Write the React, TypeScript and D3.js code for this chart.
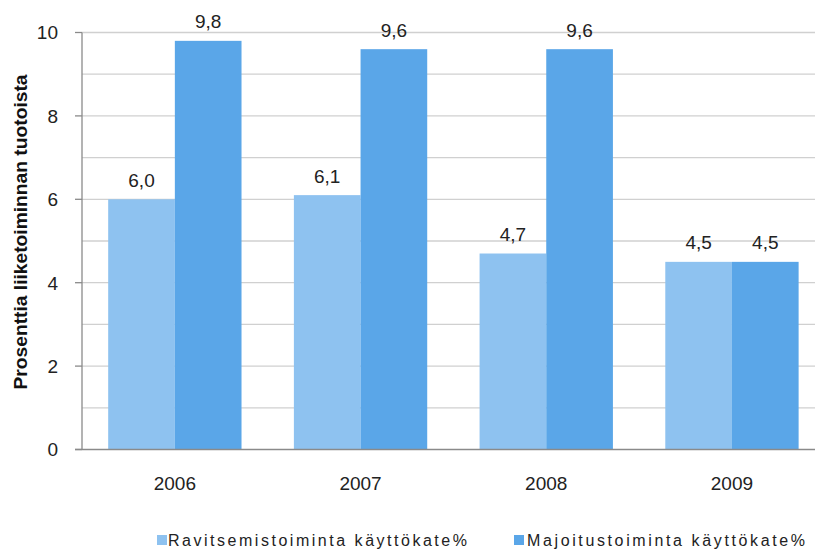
import * as d3 from 'd3';
import { useEffect, useRef } from 'react';

const years = ['2006', '2007', '2008', '2009'];
const ravitsemis = [6.0, 6.1, 4.7, 4.5];
const majoitus = [9.8, 9.6, 9.6, 4.5];
const seriesNames = ['Ravitsemistoiminta käyttökate%', 'Majoitustoiminta käyttökate%'];
const yTicks = [0, 2, 4, 6, 8, 10];

const W = 815;
const H = 549;
const FONT = '"Liberation Sans", Arial, sans-serif';
const colors = ['#8ec2f0', '#5aa6e8'];

export default function App() {
  const svgRef = useRef<SVGSVGElement>(null);

  useEffect(() => {
    if (!svgRef.current) return;
    document.body.style.margin = '0';
    const svg = d3.select(svgRef.current);
    svg.selectAll('*').remove();

    const left = 82;
    const x = d3
      .scaleBand<string>()
      .domain(years)
      .range([left, left + 4 * 185.7])
      .paddingInner(0.282)
      .paddingOuter(0.141);
    const x1 = d3.scaleBand<number>().domain([0, 1]).range([0, x.bandwidth()]);
    const y = d3.scaleLinear().domain([0, 10]).range([449.5, 32.5]);

    // gridlines
    svg
      .append('g')
      .selectAll('line')
      .data(d3.range(1, 11))
      .enter()
      .append('line')
      .attr('x1', left)
      .attr('x2', W)
      .attr('y1', (d) => y(d))
      .attr('y2', (d) => y(d))
      .attr('stroke', '#d0d0d0')
      .attr('stroke-width', 1.3);

    // bars
    const series = [ravitsemis, majoitus];
    series.forEach((vals, si) => {
      svg
        .append('g')
        .selectAll('rect')
        .data(vals)
        .enter()
        .append('rect')
        .attr('x', (_, i) => (x(years[i]) as number) + (x1(si) as number))
        .attr('y', (d) => y(d))
        .attr('width', x1.bandwidth())
        .attr('height', (d) => y(0) - y(d))
        .attr('fill', colors[si]);

      svg
        .append('g')
        .selectAll('text')
        .data(vals)
        .enter()
        .append('text')
        .attr('x', (_, i) => (x(years[i]) as number) + (x1(si) as number) + x1.bandwidth() / 2)
        .attr('y', (d) => y(d) - 12.5)
        .attr('text-anchor', 'middle')
        .style('font-family', FONT)
        .style('font-size', '19px')
        .attr('fill', '#222')
        .text((d) => d.toFixed(1).replace('.', ','));
    });

    // y axis
    svg
      .append('line')
      .attr('x1', left)
      .attr('x2', left)
      .attr('y1', y(10))
      .attr('y2', y(0))
      .attr('stroke', '#8a8a8a')
      .attr('stroke-width', 1.3);
    svg
      .append('g')
      .selectAll('line')
      .data(yTicks)
      .enter()
      .append('line')
      .attr('x1', 75)
      .attr('x2', left)
      .attr('y1', (d) => y(d))
      .attr('y2', (d) => y(d))
      .attr('stroke', '#8a8a8a')
      .attr('stroke-width', 1.3);
    svg
      .append('g')
      .selectAll('text')
      .data(yTicks)
      .enter()
      .append('text')
      .attr('x', 58)
      .attr('y', (d) => y(d))
      .attr('dy', '0.36em')
      .attr('text-anchor', 'end')
      .style('font-family', FONT)
      .style('font-size', '19px')
      .attr('fill', '#222')
      .text((d) => d);

    // x axis
    svg
      .append('line')
      .attr('x1', 75)
      .attr('x2', W)
      .attr('y1', y(0))
      .attr('y2', y(0))
      .attr('stroke', '#8a8a8a')
      .attr('stroke-width', 1.3);
    svg
      .append('g')
      .selectAll('text')
      .data(years)
      .enter()
      .append('text')
      .attr('x', (d) => (x(d) as number) + x.bandwidth() / 2)
      .attr('y', 490)
      .attr('text-anchor', 'middle')
      .style('font-family', FONT)
      .style('font-size', '19px')
      .attr('fill', '#222')
      .text((d) => d);

    // y axis title
    svg
      .append('text')
      .attr('transform', `translate(27,232) rotate(-90)`)
      .attr('text-anchor', 'middle')
      .style('font-family', FONT)
      .style('font-size', '18px')
      .style('font-weight', 'bold')
      .attr('fill', '#111')
      .attr('textLength', 315)
      .attr('lengthAdjust', 'spacingAndGlyphs')
      .text('Prosenttia liiketoiminnan tuotoista');

    // legend
    const legendItems = [
      { sx: 157, tx: 168, len: 299 },
      { sx: 514, tx: 527, len: 278 },
    ];
    legendItems.forEach((it, i) => {
      svg
        .append('rect')
        .attr('x', it.sx)
        .attr('y', 535)
        .attr('width', 10)
        .attr('height', 10)
        .attr('fill', colors[i]);
      svg
        .append('text')
        .attr('x', it.tx)
        .attr('y', 546)
        .style('font-family', FONT)
        .style('font-size', '16px')
        .attr('fill', '#222')
        .attr('textLength', it.len)
        .attr('lengthAdjust', 'spacing')
        .text(seriesNames[i]);
    });
  }, []);

  return (
    <svg
      ref={svgRef}
      width={W}
      height={H}
      style={{ position: 'absolute', left: 0, top: 0, background: '#fff' }}
    />
  );
}
